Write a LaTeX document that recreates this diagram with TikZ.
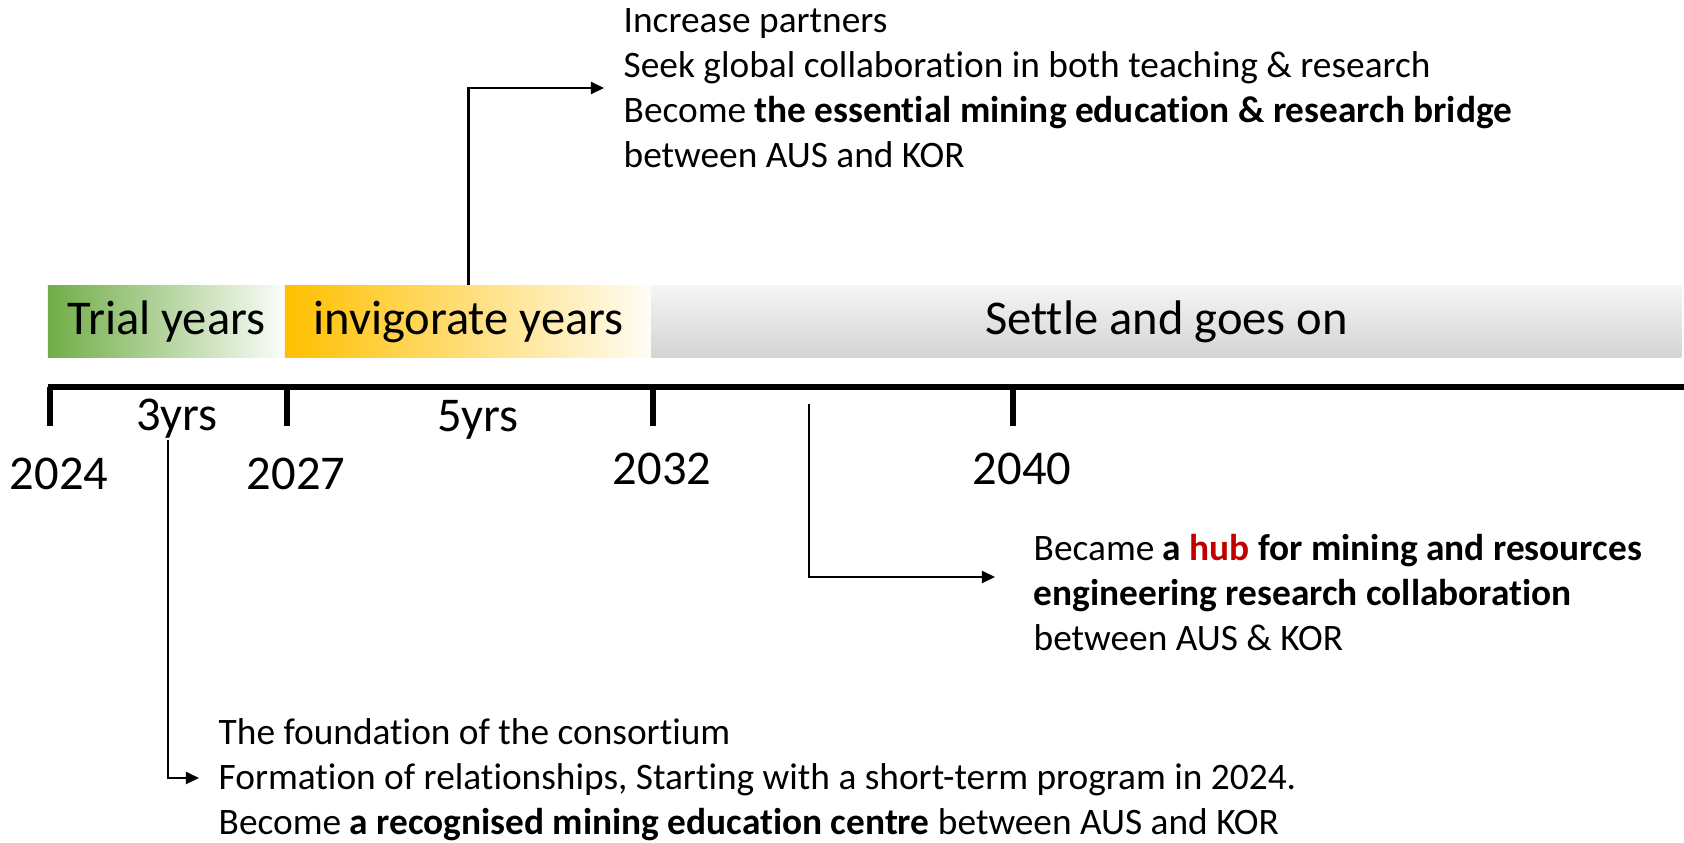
\documentclass[tikz,border=0pt]{standalone}
\usepackage{fontspec}
\setmainfont[Ligatures=NoCommon]{Carlito}
\usepackage{tikz}
\usetikzlibrary{positioning,calc,arrows.meta}
\definecolor{trialgreen}{RGB}{112,173,71}
\definecolor{invigorange}{RGB}{255,192,0}
\definecolor{hubred}{RGB}{192,0,0}
\tikzset{pbar/.style={inner sep=0pt, minimum height=0.71cm, font=\fontsize{13.8}{16.5}\selectfont}}
\tikzset{note/.style={inner sep=0pt, align=left, font=\fontsize{10.62}{12.8}\selectfont}}
\tikzset{yrlbl/.style={inner sep=0pt, font=\fontsize{13.8}{16.5}\selectfont}}
\tikzset{axisline/.style={draw, line width=1.8pt}}
\tikzset{yrtick/.style={draw, line width=1.8pt}}
\tikzset{arr/.style={draw, -{Triangle[length=0.13cm, width=0.12cm]}, line width=0.6pt}}

\begin{document}
\begin{tikzpicture}[x=0.01cm, y=-0.01cm]
	\useasboundingbox (0,0) rectangle (1684,842);

	% phases
	\node[pbar, minimum width=2.37cm, left color=trialgreen, right color=trialgreen!3] (trial) at (166.5,321.5) {Trial years};
	\node[pbar, minimum width=3.67cm, left color=invigorange, right color=invigorange!4] (invig) at (468.5,321.5) {invigorate years};
	\node[pbar, minimum width=10.29cm, top color=black!4, bottom color=black!17] (settle) at (1166.5,321.5) {Settle and goes on};

	% timeline
	\coordinate (t0) at (48,387);
	\coordinate (t1) at (1684,387);
	\draw[axisline] (t0) -- (t1);
	\foreach \tx/\yr/\yb in {50/2024/489, 287/2027/489, 653/2032/484, 1013/2040/484} {
		\draw[yrtick] (\tx,387) -- (\tx,426);
		\node[yrlbl, anchor=base] (y\yr) at (\tx+9,\yb) {\yr};
	}
	\node[yrlbl, anchor=base] (span3) at (177,430) {3yrs};
	\node[yrlbl, anchor=base] (span5) at (478,431) {5yrs};

	% goals
	\node[note, anchor=west] (goal2032) at (623,88) {Increase partners\\
		Seek global collaboration in both teaching \& research\\
		Become \textbf{the essential mining education \& research bridge}\\
		between AUS and KOR};
	\node[note, anchor=west] (goal2040) at (1033,593) {Became \textbf{a {\color{hubred}hub} for mining and resources}\\
		\textbf{engineering research collaboration}\\
		between AUS \& KOR};
	\node[note, anchor=west] (goal2027) at (218,780) {The foundation of the consortium\\
		Formation of relationships, Starting with a short-term program in 2024.\\
		Become \textbf{a recognised mining education centre} between AUS and KOR};

	\coordinate (from3) at (168,440);
	\coordinate (from32) at (809,404);
	\draw[arr] (invig.north) |- ([xshift=-0.19cm]goal2032.west);
	\draw[arr] (from32) |- ([xshift=-0.38cm, yshift=0.16cm]goal2040.west);
	\draw[arr] (from3) |- ([xshift=-0.19cm, yshift=0.02cm]goal2027.west);
\end{tikzpicture}
\end{document}
